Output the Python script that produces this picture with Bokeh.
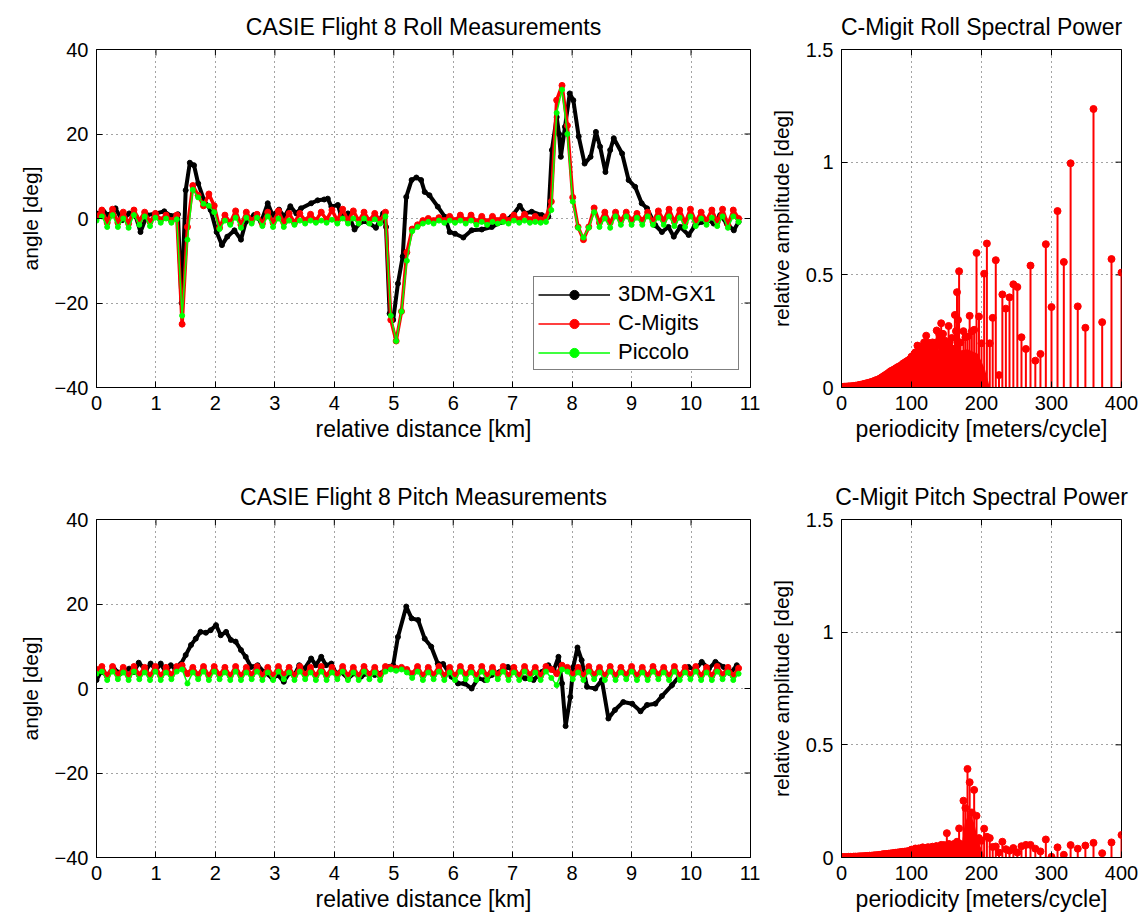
import math
from bokeh.plotting import figure
from bokeh.models import Range1d, FixedTicker, Legend, LegendItem
from bokeh.layouts import row, column
from bokeh.embed import file_html
from bokeh.resources import INLINE

FONT = "Liberation Sans"

# ---------------- data ----------------
DIST_TICKS = [0, 1, 2, 3, 4, 5, 6, 7, 8, 9, 10, 11]
ANGLE_TICKS = [-40, -20, 0, 20, 40]
ANGLE_LABELS = {-40: "\u221240", -20: "\u221220", 0: "0", 20: "20", 40: "40"}
PERIOD_TICKS = [0, 100, 200, 300, 400]
AMP_TICKS = [0, 0.5, 1, 1.5]
AMP_LABELS = {0: "0", 0.5: "0.5", 1: "1", 1.5: "1.5"}

# sample positions (km) of the C-Migits / Piccolo traces
RG_X = [0.00, 0.09, 0.18, 0.27, 0.36, 0.45, 0.54, 0.63, 0.72, 0.81,
        0.90, 0.99, 1.08, 1.17, 1.26, 1.35, 1.44, 1.53, 1.62, 1.71,
        1.80, 1.89, 1.98, 2.07, 2.16, 2.25, 2.34, 2.43, 2.52, 2.61,
        2.70, 2.79, 2.88, 2.97, 3.06, 3.15, 3.24, 3.33, 3.42, 3.51,
        3.60, 3.69, 3.78, 3.87, 3.96, 4.05, 4.14, 4.23, 4.32, 4.41,
        4.50, 4.59, 4.68, 4.77, 4.86, 4.95, 5.04, 5.13, 5.22, 5.31,
        5.40, 5.49, 5.58, 5.67, 5.76, 5.85, 5.94, 6.03, 6.12, 6.21,
        6.30, 6.39, 6.48, 6.57, 6.66, 6.75, 6.84, 6.93, 7.02, 7.11,
        7.20, 7.29, 7.38, 7.47, 7.56, 7.65, 7.74, 7.83, 7.92, 8.01,
        8.10, 8.19, 8.28, 8.37, 8.46, 8.55, 8.64, 8.73, 8.82, 8.91,
        9.00, 9.09, 9.18, 9.27, 9.36, 9.45, 9.54, 9.63, 9.72, 9.81,
        9.90, 9.99, 10.08, 10.17, 10.26, 10.35, 10.44, 10.53, 10.62, 10.71,
        10.80]

ROLL_CMIGITS = [0.5, 2.0, -1.0, 2.2, -1.0, 1.5, -1.2, 2.0, -0.5, 1.5,
                -0.8, 1.2, -0.3, 0.8, -0.5, 0.8, -25.0, -2.0, 7.8, 5.5,
                3.0, 5.8, 3.0, -2.2, 0.8, -1.0, 1.8, -1.5, 1.5, -0.5,
                1.0, -1.2, 1.5, -1.0, 1.8, -1.0, 1.2, -1.0, 1.2, -0.5,
                1.0, -0.5, 1.5, -0.3, 2.0, -0.5, 2.2, -0.5, 1.8, -0.5,
                1.5, -0.5, 1.2, -0.5, 1.5, -24.0, -29.0, -22.0, -8.0, -2.5,
                -1.5, -0.5, 0.0, -0.5, 0.2, -0.5, 0.5, -0.5, 0.8, -0.5,
                0.8, -0.8, 0.5, -0.8, 0.5, -0.5, 0.5, -0.5, 0.8, -0.3,
                1.0, -0.3, 0.5, -0.3, 0.3, 4.0, 28.0, 31.5, 22.0, 5.0,
                -2.0, -5.0, -2.0, 2.5, -1.0, 1.5, -1.0, 1.5, -0.5, 1.5,
                -0.5, 1.2, -0.5, 1.5, -0.8, 1.8, -0.5, 2.2, -0.8, 2.0,
                -1.0, 2.2, -0.8, 1.5, -0.5, 2.0, -0.8, 2.2, -1.5, 2.0,
                0.0]

ROLL_PICCOLO = [-0.5, 0.5, -2.0, 0.8, -2.0, 0.0, -2.2, 0.8, -1.5, 0.5,
                -1.8, 0.2, -1.0, 0.0, -1.0, -0.2, -23.0, -5.0, 6.8, 5.0,
                3.5, 3.0, 1.5, -2.5, -0.5, -1.5, 0.2, -2.2, 0.2, -1.2,
                0.2, -1.8, 0.5, -2.0, 0.0, -2.0, -0.5, -1.5, -0.5, -1.2,
                -0.5, -1.0, -0.5, -1.0, -0.3, -1.2, 0.0, -1.2, 0.0, -1.2,
                0.0, -1.2, -0.2, -1.2, 0.5, -23.0, -29.0, -22.0, -10.0, -3.0,
                -2.0, -1.2, -0.8, -1.2, -0.5, -1.0, -0.5, -1.0, -0.5, -1.2,
                -0.5, -1.5, -0.8, -1.5, -0.8, -1.2, -0.8, -1.2, -0.5, -1.0,
                -0.5, -1.0, -0.8, -1.0, -0.8, 2.0, 25.0, 30.5, 20.0, 4.0,
                -2.2, -4.5, -2.2, 1.5, -2.0, 0.0, -2.2, 0.5, -1.5, 0.5,
                -1.5, 0.2, -1.5, 0.5, -1.5, 0.2, -1.5, 0.5, -1.8, 0.2,
                -2.0, 0.5, -1.8, 0.0, -1.5, 0.2, -1.8, 0.5, -2.2, 0.5,
                -0.8]

PITCH_CMIGITS = [4.5, 5.2, 3.0, 5.2, 3.2, 5.0, 3.0, 5.2, 3.2, 5.0,
                 3.0, 5.2, 3.0, 5.0, 3.2, 5.2, 5.5, 3.5, 5.0, 3.2,
                 5.2, 3.0, 5.2, 3.2, 5.0, 3.0, 5.2, 3.0, 5.0, 3.2,
                 5.2, 3.0, 5.0, 3.0, 5.2, 3.2, 5.0, 3.0, 5.2, 3.2,
                 5.0, 3.0, 5.2, 3.0, 5.0, 3.2, 5.2, 3.0, 5.0, 3.0,
                 5.2, 3.2, 5.0, 3.0, 5.2, 5.0, 4.8, 5.0, 4.5, 3.5,
                 5.2, 3.0, 5.0, 3.2, 5.2, 3.0, 5.0, 3.0, 5.2, 3.2,
                 5.0, 3.0, 5.2, 3.0, 5.0, 3.2, 5.2, 3.0, 5.0, 3.0,
                 5.2, 3.2, 5.0, 3.0, 5.2, 4.5, 3.5, 5.5, 5.0, 3.2,
                 5.0, 3.0, 5.2, 3.2, 5.0, 3.0, 5.2, 3.0, 5.0, 3.2,
                 5.2, 3.0, 5.0, 3.0, 5.2, 3.2, 5.0, 3.0, 5.2, 3.0,
                 5.0, 3.2, 5.2, 3.0, 5.0, 3.0, 5.2, 3.2, 5.0, 3.0,
                 4.8]

PITCH_PICCOLO = [3.5, 4.0, 2.0, 4.0, 2.2, 3.8, 2.0, 4.0, 2.2, 3.8,
                 2.0, 4.0, 2.0, 3.8, 2.2, 4.0, 4.5, 1.2, 3.8, 2.2,
                 4.0, 2.0, 4.0, 2.2, 3.8, 2.0, 4.0, 2.0, 3.8, 2.2,
                 4.0, 2.0, 3.8, 2.0, 4.0, 2.2, 3.8, 2.0, 4.0, 2.2,
                 3.8, 2.0, 4.0, 2.0, 3.8, 2.2, 4.0, 2.0, 3.8, 2.0,
                 4.0, 2.2, 3.8, 2.0, 4.0, 4.5, 4.2, 4.5, 3.8, 2.5,
                 4.0, 2.0, 3.8, 2.2, 4.0, 2.0, 3.8, 2.0, 4.0, 2.2,
                 3.8, 2.0, 4.0, 2.0, 3.8, 2.2, 4.0, 2.0, 3.8, 2.0,
                 4.0, 2.2, 3.8, 2.0, 4.0, 2.5, 0.8, 4.5, 4.0, 2.2,
                 3.8, 2.0, 4.0, 2.2, 3.8, 2.0, 4.0, 2.0, 3.8, 2.2,
                 4.0, 2.0, 3.8, 2.0, 4.0, 2.2, 3.8, 2.0, 4.0, 2.0,
                 3.8, 2.2, 4.0, 2.0, 3.8, 2.0, 4.0, 2.2, 3.8, 2.0,
                 3.5]

ROLL_GX1_X = [0, 0.12, 0.2, 0.32, 0.43, 0.55, 0.66, 0.74, 0.85, 1.0,
              1.14, 1.25, 1.37, 1.43, 1.5, 1.57, 1.64, 1.71, 1.81, 1.92,
              2.02, 2.11, 2.2, 2.32, 2.43, 2.51, 2.65, 2.77, 2.88, 2.96,
              3.07, 3.16, 3.26, 3.36, 3.44, 3.61, 3.72, 3.83, 3.89, 3.95,
              4.06, 4.11, 4.23, 4.34, 4.45, 4.56, 4.7, 4.82, 4.87, 4.93,
              4.99, 5.07, 5.15, 5.21, 5.3, 5.38, 5.46, 5.52, 5.6, 5.74,
              5.86, 5.94, 6.03, 6.17, 6.31, 6.48, 6.65, 6.81, 6.98, 7.12,
              7.21, 7.32, 7.49, 7.6, 7.66, 7.74, 7.78, 7.81, 7.88, 7.96,
              8.02, 8.11, 8.21, 8.31, 8.4, 8.47, 8.56, 8.64, 8.7, 8.84,
              8.95, 9.06, 9.17, 9.26, 9.4, 9.51, 9.62, 9.71, 9.82, 9.96,
              10.07, 10.18, 10.3, 10.38, 10.49, 10.6, 10.72, 10.8]
ROLL_GX1 = [1.2, 1.6, 0.8, 2.4, -0.4, 1.2, 0.5, -3.2, 0.8, 1.2,
            1.7, 0.6, 1.0, -20.0, 6.7, 13.2, 12.6, 8.3, 4.3, 2.0,
            -3.2, -6.3, -4.3, -2.8, -5.0, -0.8, 0.8, -0.8, 3.6, 0.8,
            2.1, 0.4, 2.9, 1.2, 2.4, 3.6, 4.3, 4.5, 4.7, 2.8,
            3.2, 0.8, 1.2, -2.6, -0.8, -0.8, -2.2, 1.2, -2.0, -22.5,
            -24.0, -15.4, -9.0, 5.1, 9.1, 9.7, 9.1, 6.3, 5.5, 2.8,
            0.4, -3.2, -3.6, -4.5, -2.8, -2.6, -2.0, -0.8, 0.4, 3.0,
            1.2, 1.6, 0.8, 0.4, 16.2, 24.0, 20.0, 14.6, 21.7, 29.6,
            28.0, 19.4, 13.0, 14.6, 20.5, 17.0, 11.0, 16.2, 19.0, 15.4,
            9.1, 7.5, 3.6, 2.4, -1.6, -3.2, -2.0, -4.3, -2.0, -3.9,
            -1.6, -0.8, -0.4, -1.2, 0.8, -1.2, -2.8, -0.8]

PITCH_GX1_X = [0, 0.07, 0.18, 0.29, 0.4, 0.55, 0.63, 0.71, 0.83, 0.91,
               1.0, 1.08, 1.16, 1.25, 1.33, 1.42, 1.5, 1.59, 1.67, 1.75,
               1.84, 1.92, 2.01, 2.09, 2.18, 2.26, 2.34, 2.43, 2.51, 2.6,
               2.71, 2.82, 2.96, 3.05, 3.15, 3.24, 3.33, 3.41, 3.5, 3.61,
               3.69, 3.78, 3.86, 3.95, 4.03, 4.11, 4.23, 4.34, 4.45, 4.56,
               4.68, 4.79, 4.93, 4.99, 5.07, 5.21, 5.3, 5.41, 5.52, 5.63,
               5.74, 5.83, 5.97, 6.08, 6.19, 6.31, 6.42, 6.53, 6.65, 6.78,
               6.92, 7.09, 7.21, 7.35, 7.49, 7.6, 7.69, 7.77, 7.83, 7.89,
               7.97, 8.02, 8.09, 8.16, 8.25, 8.39, 8.5, 8.61, 8.72, 8.86,
               9.01, 9.15, 9.26, 9.4, 9.51, 9.68, 9.82, 9.96, 10.07, 10.18,
               10.3, 10.41, 10.55, 10.66, 10.77]
PITCH_GX1 = [2.0, 3.9, 3.2, 4.7, 3.6, 4.7, 3.9, 6.1, 4.3, 5.9,
             4.3, 5.9, 3.9, 5.5, 4.5, 5.8, 7.9, 10.3, 11.8, 13.4,
             13.2, 13.8, 15.0, 12.6, 13.4, 11.5, 11.1, 9.1, 7.5, 5.1,
             5.5, 3.9, 2.4, 3.2, 1.6, 3.6, 3.2, 5.5, 4.7, 7.1,
             5.5, 7.5, 5.5, 5.9, 3.6, 3.9, 2.4, 3.6, 2.8, 3.6,
             3.2, 3.6, 5.1, 5.5, 12.2, 19.4, 16.6, 16.2, 11.8, 9.9,
             5.9, 5.8, 2.8, 1.2, 1.2, 0.0, 2.4, 2.0, 3.2, 3.9,
             5.1, 3.2, 2.4, 2.0, 3.9, 5.5, 4.3, 7.5, 1.2, -8.9,
             -2.0, 5.1, 9.7, 6.7, 0.4, 0.0, 2.0, -7.1, -5.1, -3.2,
             -3.6, -5.4, -3.9, -3.6, -1.8, 0.8, 3.2, 5.1, 4.3, 6.3,
             4.7, 6.3, 5.1, 3.6, 5.5]

# spectra: periodicity (m/cycle) and relative amplitude (deg)
SPARSE_PERIOD = [400.0, 385.7, 372.4, 360.0, 348.4, 337.5, 327.3, 317.6, 308.6, 300.0,
                 291.9, 284.2, 276.9, 270.0, 263.4, 257.1, 251.2, 245.5, 240.0, 234.8,
                 229.8, 225.0, 220.4, 216.0, 211.8, 207.7, 203.8, 200.0, 196.4, 192.9,
                 189.5, 186.2, 183.1, 180.0, 177.0, 174.2]
ROLL_SPARSE_AMP = [0.51, 0.57, 0.29, 1.236, 0.265, 0.36, 0.995, 0.557, 0.783, 0.357,
                   0.636, 0.149, 0.119, 0.541, 0.171, 0.223, 0.446, 0.458, 0.40, 0.35,
                   0.413, 0.055, 0.565, 0.309, 0.196, 0.639, 0.505, 0.196, 0.315, 0.597,
                   0.256, 0.25, 0.318, 0.226, 0.223, 0.25]
PITCH_SPARSE_AMP = [0.10, 0.067, 0.019, 0.065, 0.053, 0.039, 0.055, 0.012, 0.045, 0.003,
                    0.08, 0.027, 0.039, 0.056, 0.056, 0.05, 0.022, 0.042, 0.03, 0.037,
                    0.07, 0.022, 0.049, 0.047, 0.086, 0.092, 0.128, 0.074, 0.086, 0.185,
                    0.30, 0.20, 0.334, 0.393, 0.22, 0.252]

DENSE_PERIOD = [100, 102.7, 105.6, 108.5, 111, 114, 116, 118, 121, 124.7,
                127.6, 130, 134, 136, 139.5, 142.4, 145, 147.7, 150.5, 153,
                156, 159, 162, 165, 168]
ROLL_DENSE_AMP = [0.137, 0.14, 0.156, 0.186, 0.17, 0.15, 0.183, 0.2, 0.23, 0.18,
                  0.19, 0.2, 0.146, 0.253, 0.238, 0.285, 0.238, 0.208, 0.152, 0.273,
                  0.107, 0.172, 0.322, 0.423, 0.516]
PITCH_DENSE_AMP = [0.035, 0.03, 0.04, 0.035, 0.04, 0.038, 0.045, 0.04, 0.042, 0.045,
                   0.04, 0.048, 0.045, 0.05, 0.045, 0.056, 0.05, 0.048, 0.108, 0.06,
                   0.055, 0.056, 0.052, 0.07, 0.129]

DENSE2_PERIOD = [101.3, 104.1, 107, 109.8, 112.5, 115, 117, 119.5, 122.8, 126.1,
                 128.8, 132, 135, 137.7, 141, 143.7, 146.3, 149.1, 151.8, 154.5,
                 157.5, 160.5, 163.5, 166.5, 170]
ROLL_DENSE2_AMP = [0.13, 0.15, 0.14, 0.16, 0.15, 0.17, 0.16, 0.18, 0.2, 0.17,
                   0.16, 0.18, 0.2, 0.19, 0.22, 0.21, 0.2, 0.17, 0.19, 0.2,
                   0.22, 0.15, 0.25, 0.3, 0.2]
PITCH_DENSE2_AMP = [0.03, 0.035, 0.03, 0.04, 0.035, 0.04, 0.038, 0.04, 0.045, 0.04,
                    0.045, 0.042, 0.05, 0.045, 0.05, 0.05, 0.055, 0.05, 0.055, 0.058,
                    0.05, 0.06, 0.055, 0.065, 0.06]

LOW_PERIOD = [0, 5, 10, 15, 20, 25, 30, 35, 40, 45, 50, 55, 60, 65, 70, 75, 80, 85, 90, 95]
ROLL_LOW_AMP = [0.003, 0.004, 0.005, 0.006, 0.008, 0.011, 0.014, 0.018, 0.022, 0.027,
                0.033, 0.04, 0.05, 0.06, 0.072, 0.08, 0.09, 0.098, 0.11, 0.12]
PITCH_LOW_AMP = [0.002, 0.002, 0.003, 0.003, 0.004, 0.005, 0.006, 0.007, 0.008, 0.009,
                 0.01, 0.012, 0.015, 0.016, 0.018, 0.02, 0.022, 0.024, 0.026, 0.028]
LOW2_PERIOD = [2.5, 7.5, 12.5, 17.5, 22.5, 27.5, 32.5, 37.5, 42.5, 47.5,
               52.5, 57.5, 62.5, 67.5, 72.5, 77.5, 82.5, 87.5, 92.5, 97.5]
ROLL_LOW2_AMP = [0.003, 0.004, 0.005, 0.007, 0.009, 0.012, 0.016, 0.02, 0.024, 0.03,
                 0.036, 0.045, 0.055, 0.066, 0.076, 0.085, 0.094, 0.105, 0.115, 0.125]
PITCH_LOW2_AMP = [0.002, 0.002, 0.003, 0.004, 0.004, 0.005, 0.006, 0.007, 0.008, 0.01,
                  0.011, 0.013, 0.015, 0.017, 0.019, 0.021, 0.023, 0.025, 0.027, 0.03]

ROLL_FILL_X = [0, 20, 40, 60, 80, 100, 120, 140, 160, 180, 195, 205, 212]
ROLL_FILL_Y = [0.003, 0.007, 0.02, 0.048, 0.085, 0.128, 0.155, 0.165, 0.16, 0.17, 0.15, 0.08, 0.0]
PITCH_FILL_X = [0, 20, 40, 60, 80, 100, 120, 140, 160, 172, 176, 182, 190, 196, 200, 205]
PITCH_FILL_Y = [0.002, 0.003, 0.007, 0.014, 0.02, 0.028, 0.035, 0.04, 0.045, 0.06, 0.15,
                0.2, 0.15, 0.06, 0.04, 0.0]

BLACK = "#000000"
RED = "#ff0000"
GREEN = "#00ff00"


# ---------------- helpers ----------------
def style_axis(ax, ticks, overrides=None):
    ax.ticker = FixedTicker(ticks=ticks)
    ax.major_tick_in = 6
    ax.major_tick_out = 0
    ax.minor_tick_in = 0
    ax.minor_tick_out = 0
    ax.axis_line_color = "black"
    ax.major_tick_line_color = "black"
    ax.major_label_text_font = FONT
    ax.major_label_text_color = "black"
    ax.major_label_text_font_size = "20px"
    ax.axis_label_text_font = FONT
    ax.axis_label_text_font_style = "normal"
    ax.axis_label_text_color = "black"
    if overrides:
        ax.major_label_overrides = overrides


def make_fig(title, xr, yr, xticks, yticks, xlabel, ylabel, yover,
             left, right, top, bottom, fw, fh):
    p = figure(title=title, x_range=Range1d(*xr), y_range=Range1d(*yr),
               frame_width=fw, frame_height=fh,
               min_border_left=left, min_border_right=right,
               min_border_top=top, min_border_bottom=bottom,
               output_backend="svg", toolbar_location=None,
               x_axis_label=xlabel, y_axis_label=ylabel)
    p.title.align = "center"
    p.title.text_font = FONT
    p.title.text_font_size = "23px"
    p.title.text_font_style = "normal"
    p.title.text_color = "black"
    p.title.standoff = 19
    p.outline_line_color = "black"
    p.outline_line_width = 1
    p.outline_line_alpha = 1
    p.background_fill_color = "white"
    p.border_fill_color = "white"

    style_axis(p.xaxis[0], xticks)
    p.xaxis[0].axis_label_text_font_size = "23px"
    p.xaxis[0].major_label_standoff = 8
    p.xaxis[0].axis_label_standoff = 3
    style_axis(p.yaxis[0], yticks, yover)
    p.yaxis[0].axis_label_text_font_size = "21px"
    p.yaxis[0].major_label_standoff = 8
    p.yaxis[0].axis_label_standoff = 10

    p.xgrid.ticker = FixedTicker(ticks=xticks)
    p.ygrid.ticker = FixedTicker(ticks=yticks)
    for g in (p.xgrid, p.ygrid):
        g.grid_line_color = "#333333"
        g.grid_line_dash = "1 4"
        g.grid_line_width = 1
        g.grid_line_alpha = 0.9

    # inward ticks on the top and right edges of the box
    p.scatter(xticks, [yr[1]] * len(xticks), marker="dash", angle=math.pi / 2,
              size=12, line_color="black", line_width=1)
    p.scatter([xr[1]] * len(yticks), yticks, marker="dash",
              size=12, line_color="black", line_width=1)
    return p


def time_series(p, gx_x, gx_y, rg_x, cm_y, pc_y):
    # thin renderers (used for the legend glyphs) + thick trace look
    bt = p.line(gx_x, gx_y, color=BLACK, line_width=1.5)
    p.line(gx_x, gx_y, color=BLACK, line_width=4)
    bs = p.scatter(gx_x, gx_y, color=BLACK, size=5)
    rt = p.line(rg_x, cm_y, color=RED, line_width=1.5)
    p.line(rg_x, cm_y, color=RED, line_width=3.5)
    rs = p.scatter(rg_x, cm_y, color=RED, size=6)
    gl = p.line(rg_x, pc_y, color=GREEN, line_width=1.5)
    gs = p.scatter(rg_x, pc_y, color=GREEN, size=5)
    return [bt, bs], [rt, rs], [gl, gs]


def spectrum(p, fill_x, fill_y, xs, ys):
    p.varea(x=fill_x, y1=[0] * len(fill_x), y2=fill_y, fill_color=RED)
    p.segment(x0=xs, y0=[0] * len(xs), x1=xs, y1=ys, line_color=RED, line_width=2)
    p.scatter(xs, ys, color=RED, size=7)


# ---------------- figures ----------------
p1 = make_fig("CASIE Flight 8 Roll Measurements", (0, 11), (-40, 40), DIST_TICKS, ANGLE_TICKS,
              "relative distance [km]", "angle [deg]", ANGLE_LABELS,
              96, 10, 49, 73, 654, 338)
b, r, g = time_series(p1, ROLL_GX1_X, ROLL_GX1, RG_X, ROLL_CMIGITS, ROLL_PICCOLO)
legend = Legend(items=[LegendItem(label="3DM-GX1", renderers=b),
                       LegendItem(label="C-Migits", renderers=r),
                       LegendItem(label="Piccolo", renderers=g)],
                location=(437, 17))
legend.label_text_font = FONT
legend.label_text_font_size = "22px"
legend.label_text_color = "black"
legend.glyph_width = 72
legend.glyph_height = 23
legend.label_height = 23
legend.label_width = 116
legend.label_standoff = 8
legend.spacing = 3
legend.padding = 4
legend.margin = 0
legend.border_line_color = "black"
legend.border_line_width = 1
legend.background_fill_alpha = 1
p1.add_layout(legend, "center")

SPEC_X = SPARSE_PERIOD + DENSE_PERIOD + DENSE2_PERIOD + LOW_PERIOD + LOW2_PERIOD

p2 = make_fig("C-Migit Roll Spectral Power", (0, 400), (0, 1.5), PERIOD_TICKS, AMP_TICKS,
              "periodicity [meters/cycle]", "relative amplitude [deg]", AMP_LABELS,
              81, 20, 49, 73, 280, 338)
spectrum(p2, ROLL_FILL_X, ROLL_FILL_Y, SPEC_X,
         ROLL_SPARSE_AMP + ROLL_DENSE_AMP + ROLL_DENSE2_AMP + ROLL_LOW_AMP + ROLL_LOW2_AMP)

p3 = make_fig("CASIE Flight 8 Pitch Measurements", (0, 11), (-40, 40), DIST_TICKS, ANGLE_TICKS,
              "relative distance [km]", "angle [deg]", ANGLE_LABELS,
              96, 10, 59, 67, 654, 338)
time_series(p3, PITCH_GX1_X, PITCH_GX1, RG_X, PITCH_CMIGITS, PITCH_PICCOLO)

p4 = make_fig("C-Migit Pitch Spectral Power", (0, 400), (0, 1.5), PERIOD_TICKS, AMP_TICKS,
              "periodicity [meters/cycle]", "relative amplitude [deg]", AMP_LABELS,
              81, 20, 59, 67, 280, 338)
spectrum(p4, PITCH_FILL_X, PITCH_FILL_Y, SPEC_X,
         PITCH_SPARSE_AMP + PITCH_DENSE_AMP + PITCH_DENSE2_AMP + PITCH_LOW_AMP + PITCH_LOW2_AMP)

layout = column(row(p1, p2, spacing=0), row(p3, p4, spacing=0), spacing=0)

with open("out.html", "w") as f:
    f.write(file_html(layout, INLINE))
